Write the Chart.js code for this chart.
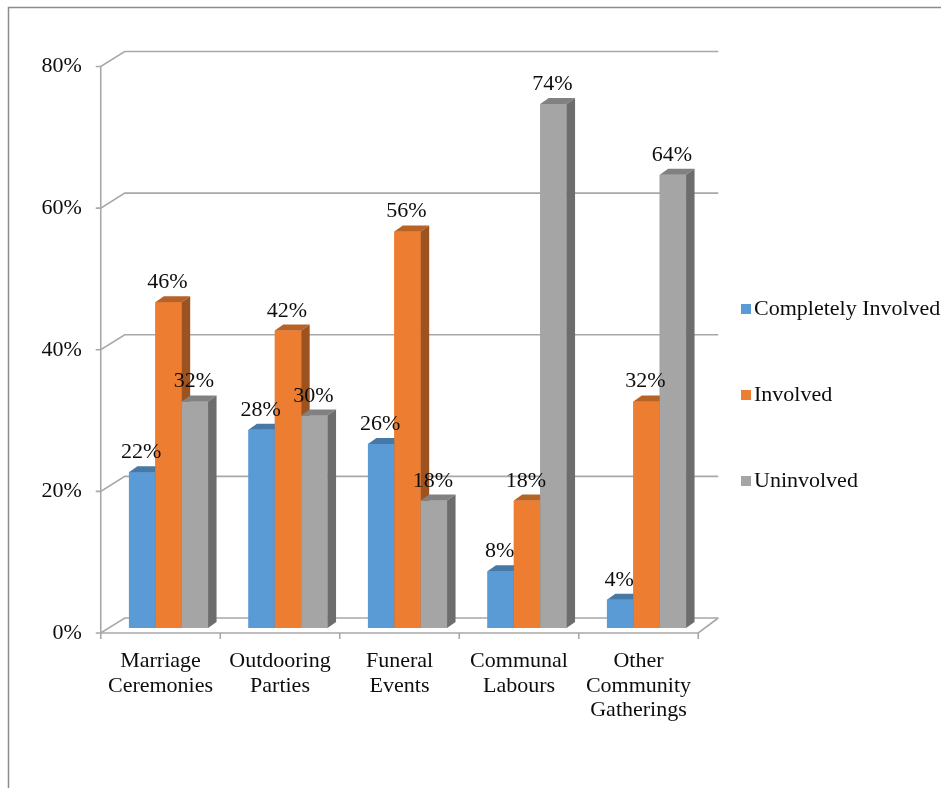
<!DOCTYPE html>
<html>
<head>
<meta charset="utf-8">
<title>Involvement in community activities</title>
<script src="https://cdn.jsdelivr.net/npm/chart.js@4.4.1/dist/chart.umd.min.js"></script>
<style>
  html, body { margin: 0; padding: 0; background: #fff; }
  canvas { display: block; }
</style>
</head>
<body>
<canvas id="involvementChart" width="941" height="788"></canvas>
<script>
// Data (percent)
const categories = [
  ['Marriage', 'Ceremonies'],
  ['Outdooring', 'Parties'],
  ['Funeral', 'Events'],
  ['Communal', 'Labours'],
  ['Other', 'Community', 'Gatherings']
];
const completelyInvolved = [22, 28, 26, 8, 4];
const involved = [46, 42, 56, 18, 32];
const uninvolved = [32, 30, 18, 74, 64];
const yTicks = [0, 20, 40, 60, 80];

const seriesNames = ['Completely Involved', 'Involved', 'Uninvolved'];
const seriesColors = ['#5B9BD5', '#ED7D31', '#A5A5A5'];

const FONT = "'Liberation Serif', 'Times New Roman', serif";
const TEXT_COLOR = '#0d0d0d';
const LINE_COLOR = '#A8A8A8';

// fake 3D offsets, relative to the plane of the bar fronts
const FRONT = { dx: -8, dy: 5 };
const BACK = { dx: 16, dy: -10 };
const DEPTH = { dx: 8.5, dy: -6 };

function shade(hex, f) {
    const n = parseInt(hex.slice(1), 16);
    const r = Math.round(((n >> 16) & 255) * f);
    const g = Math.round(((n >> 8) & 255) * f);
    const b = Math.round((n & 255) * f);
    return `rgb(${r}, ${g}, ${b})`;
}

// outer frame + walls, floor and gridlines
const wallsPlugin = {
    id: 'walls',
    beforeDraw(chart) {
        const { ctx } = chart;
        ctx.save();
        ctx.strokeStyle = '#8C8C8C';
        ctx.lineWidth = 1.5;
        ctx.beginPath();
        ctx.moveTo(8.5, 788);
        ctx.lineTo(8.5, 7.5);
        ctx.lineTo(941, 7.5);
        ctx.stroke();
        ctx.restore();
    },
    beforeDatasetsDraw(chart) {
        const { ctx, chartArea, scales: { x, y } } = chart;
        const fx = chartArea.left + FRONT.dx;
        const fxr = chartArea.right + FRONT.dx;
        const bx = chartArea.left + BACK.dx;
        const bxr = chartArea.right + 12;
        const y0 = y.getPixelForValue(0);

        ctx.save();
        ctx.strokeStyle = LINE_COLOR;
        ctx.lineWidth = 1.6;

        yTicks.forEach(v => {
            const py = y.getPixelForValue(v);
            ctx.beginPath();
            ctx.moveTo(fx - 5, py + FRONT.dy);
            ctx.lineTo(fx, py + FRONT.dy);
            ctx.lineTo(bx, py + BACK.dy);
            ctx.lineTo(bxr, py + BACK.dy);
            ctx.stroke();
        });

        // front value axis, floor front edge and right edge
        ctx.beginPath();
        ctx.moveTo(fx, y.getPixelForValue(yTicks[yTicks.length - 1]) + FRONT.dy);
        ctx.lineTo(fx, y0 + FRONT.dy);
        ctx.lineTo(fxr, y0 + FRONT.dy);
        ctx.lineTo(bxr, y0 + BACK.dy);
        ctx.stroke();

        // category separators
        const step = x.getPixelForValue(1) - x.getPixelForValue(0);
        ctx.beginPath();
        for (let i = 0; i <= categories.length; i++) {
            const px = x.getPixelForValue(0) - step / 2 + i * step + FRONT.dx;
            ctx.moveTo(px, y0 + FRONT.dy);
            ctx.lineTo(px, y0 + FRONT.dy + 6);
        }
        ctx.stroke();
        ctx.restore();
    }
};

// bars as boxes (front, top, side) + value labels
const boxesPlugin = {
    id: 'boxes',
    afterDatasetsDraw(chart) {
        const { ctx } = chart;
        const datasets = chart.data.datasets;
        ctx.save();
        for (let i = 0; i < categories.length; i++) {
            datasets.forEach((ds, d) => {
                const bar = chart.getDatasetMeta(d).data[i];
                const { x: cx, y: top, base, width } = bar.getProps(['x', 'y', 'base', 'width'], true);
                const l = cx - width / 2;
                const r = cx + width / 2;
                const color = seriesColors[d];

                ctx.fillStyle = color;
                ctx.fillRect(l, top, width, base - top);

                ctx.fillStyle = shade(color, 0.78);
                ctx.beginPath();
                ctx.moveTo(l, top);
                ctx.lineTo(r, top);
                ctx.lineTo(r + DEPTH.dx, top + DEPTH.dy);
                ctx.lineTo(l + DEPTH.dx, top + DEPTH.dy);
                ctx.closePath();
                ctx.fill();

                ctx.fillStyle = shade(color, 0.66);
                ctx.beginPath();
                ctx.moveTo(r, top);
                ctx.lineTo(r + DEPTH.dx, top + DEPTH.dy);
                ctx.lineTo(r + DEPTH.dx, base + DEPTH.dy);
                ctx.lineTo(r, base);
                ctx.closePath();
                ctx.fill();
            });
        }

        ctx.fillStyle = TEXT_COLOR;
        ctx.font = `22px ${FONT}`;
        ctx.textAlign = 'center';
        ctx.textBaseline = 'alphabetic';
        datasets.forEach((ds, d) => {
            chart.getDatasetMeta(d).data.forEach((bar, i) => {
                const { x: cx, y: top } = bar.getProps(['x', 'y'], true);
                ctx.fillText(ds.data[i] + '%', cx - 1, top - 14);
            });
        });
        ctx.restore();
    },
    afterDraw(chart) {
        // legend on the right
        const { ctx } = chart;
        ctx.save();
        ctx.font = `22px ${FONT}`;
        ctx.textAlign = 'left';
        ctx.textBaseline = 'middle';
        seriesNames.forEach((name, d) => {
            const cy = 309 + d * 86;
            ctx.fillStyle = seriesColors[d];
            ctx.fillRect(741, cy - 5, 10, 10);
            ctx.fillStyle = TEXT_COLOR;
            ctx.fillText(name, 754, cy);
        });
        ctx.restore();
    }
};

const seriesData = [completelyInvolved, involved, uninvolved];

new Chart(document.getElementById('involvementChart').getContext('2d'), {
    type: 'bar',
    data: {
        labels: categories,
        datasets: seriesNames.map((name, d) => ({
            label: name,
            data: seriesData[d],
            backgroundColor: seriesColors[d],
            borderWidth: 0,
            barPercentage: 1,
            categoryPercentage: 0.662
        }))
    },
    options: {
        responsive: false,
        animation: false,
        devicePixelRatio: 1,
        layout: { padding: { left: 0, right: 234.75, top: 61.5, bottom: 0 } },
        plugins: {
            legend: { display: false },
            tooltip: { enabled: false }
        },
        scales: {
            x: {
                grid: { display: false, drawTicks: false },
                border: { display: false },
                ticks: {
                    color: TEXT_COLOR,
                    font: { family: FONT, size: 22, lineHeight: 1.12 },
                    padding: 21,
                    labelOffset: -8,
                    maxRotation: 0,
                    autoSkip: false
                },
                afterFit: s => { s.height = 160; }
            },
            y: {
                min: 0,
                max: 80,
                grid: { display: false, drawTicks: false },
                border: { display: false },
                ticks: {
                    stepSize: 20,
                    color: TEXT_COLOR,
                    font: { family: FONT, size: 22 },
                    padding: 27,
                    labelOffset: 5,
                    callback: v => v + '%'
                },
                afterFit: s => { s.width = 108.75; }
            }
        }
    },
    plugins: [wallsPlugin, boxesPlugin]
});
</script>
</body>
</html>
